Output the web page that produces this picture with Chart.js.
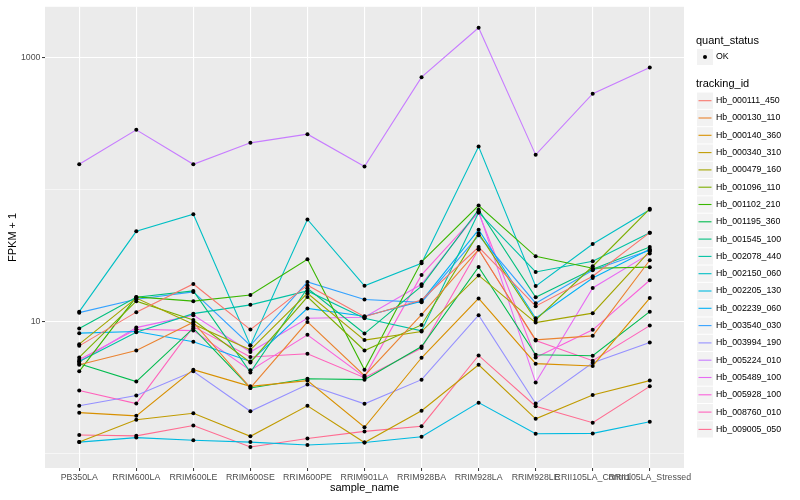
<!DOCTYPE html>
<html>
<head>
<meta charset="utf-8">
<script src="https://cdn.jsdelivr.net/npm/chart.js@4"></script>
<style>
  html, body { margin: 0; padding: 0; background: #ffffff; }
  canvas { display: block; }
</style>
</head>
<body>
<canvas id="myChart" width="800" height="500"></canvas>
<script>
const categories = ["PB350LA", "RRIM600LA", "RRIM600LE", "RRIM600SE", "RRIM600PE", "RRIM901LA",
  "RRIM928BA", "RRIM928LA", "RRIM928LE", "RRII105LA_Control", "RRII105LA_Stressed"];

const trackingIds = ["Hb_000111_450", "Hb_000130_110", "Hb_000140_360", "Hb_000340_310", "Hb_000479_160",
  "Hb_001096_110", "Hb_001102_210", "Hb_001195_360", "Hb_001545_100", "Hb_002078_440",
  "Hb_002150_060", "Hb_002205_130", "Hb_002239_060", "Hb_003540_030", "Hb_003994_190",
  "Hb_005224_010", "Hb_005489_100", "Hb_005928_100", "Hb_008760_010", "Hb_009005_050"];

const lineColors = ["#F8766D", "#EA8331", "#D89000", "#C09B00", "#A3A500", "#7CAE00", "#39B600", "#00BB4E",
  "#00BF7D", "#00C1A3", "#00BFC4", "#00BAE0", "#00B0F6", "#35A2FF", "#9590FF", "#C77CFF",
  "#E76BF3", "#FA62DB", "#FF62BC", "#FF6C91"];

// FPKM + 1, one array per tracking_id, in the order of categories
const hb000111_450 = [6.55, 11.8, 19.3, 8.70, 18.9, 10.9, 14.6, 36.8, 13.1, 22.1, 47.3];
const hb000130_110 = [4.71, 6.04, 9.90, 3.14, 9.95, 3.89, 11.3, 35.2, 7.28, 7.80, 29.2];
const hb000140_360 = [2.04, 1.93, 4.32, 3.23, 3.57, 1.58, 5.32, 15.0, 4.80, 4.61, 15.1];
const hb000340_310 = [1.22, 1.80, 2.02, 1.35, 2.30, 1.21, 2.11, 4.71, 1.83, 2.78, 3.57];
const hb000479_160 = [6.75, 15.1, 9.56, 6.11, 16.4, 7.24, 8.41, 22.4, 9.83, 11.6, 34.2];
const hb001096_110 = [5.35, 14.3, 10.3, 4.90, 15.4, 6.04, 9.44, 46.7, 10.3, 26.3, 71.7];
const hb001102_210 = [4.20, 15.4, 14.3, 15.9, 29.7, 4.32, 28.4, 76.0, 31.3, 25.4, 25.9];
const hb001195_360 = [4.80, 3.51, 8.92, 3.14, 3.69, 3.63, 6.48, 26.0, 5.61, 5.51, 11.9];
const hb001545_100 = [8.86, 15.3, 17.1, 4.12, 17.9, 8.12, 18.6, 70.5, 15.3, 25.0, 36.8];
const hb002078_440 = [4.99, 8.32, 11.5, 13.4, 17.1, 10.6, 8.51, 67.3, 23.8, 28.7, 47.3];
const hb002150_060 = [11.9, 48.4, 65.3, 6.59, 59.6, 18.7, 27.7, 213, 18.6, 38.8, 70.5];
const hb002205_130 = [1.22, 1.32, 1.26, 1.22, 1.16, 1.21, 1.34, 2.43, 1.41, 1.42, 1.74];
const hb002239_060 = [8.18, 8.41, 7.03, 4.99, 12.6, 11.0, 14.3, 49.8, 10.6, 21.4, 35.4];
const hb003540_030 = [11.7, 14.8, 16.8, 6.59, 20.0, 14.7, 14.0, 45.1, 13.8, 24.5, 34.8];
const hb003994_190 = [2.30, 2.75, 4.20, 2.09, 3.33, 2.38, 3.63, 11.2, 2.39, 4.88, 6.94];
const hb005224_010 = [156, 285, 156, 227, 264, 150, 715, 1694, 184, 535, 846];
const hb005489_100 = [4.96, 9.01, 11.2, 5.88, 10.6, 10.8, 19.2, 68.8, 3.45, 18.0, 32.8];
const hb005928_100 = [5.14, 8.76, 8.55, 4.27, 7.94, 3.81, 22.6, 67.3, 5.35, 8.66, 20.6];
const hb008760_010 = [3.00, 2.39, 9.17, 5.39, 5.70, 3.76, 6.30, 35.4, 7.19, 5.05, 9.33];
const hb009005_050 = [1.38, 1.36, 1.63, 1.12, 1.30, 1.47, 1.61, 5.54, 2.28, 1.71, 3.23];

const seriesValues = [hb000111_450, hb000130_110, hb000140_360, hb000340_310, hb000479_160,
  hb001096_110, hb001102_210, hb001195_360, hb001545_100, hb002078_440,
  hb002150_060, hb002205_130, hb002239_060, hb003540_030, hb003994_190,
  hb005224_010, hb005489_100, hb005928_100, hb008760_010, hb009005_050];

const yTicks = [1, 10, 100, 1000];
const yLabelled = [10, 1000];

const FONT = "'Liberation Sans', Arial, sans-serif";

const datasets = seriesValues.map((vals, i) => ({
  type: "line",
  label: trackingIds[i],
  data: vals.map((v, j) => ({ x: j, y: v })),
  borderColor: lineColors[i],
  backgroundColor: lineColors[i],
  borderWidth: 1.1,
  pointRadius: 0,
  tension: 0,
  order: 2
}));

// black points of quant_status "OK", drawn over all lines
datasets.push({
  type: "scatter",
  label: "OK",
  data: seriesValues.flatMap((vals) => vals.map((v, j) => ({ x: j, y: v }))),
  pointRadius: 2,
  pointBackgroundColor: "#000000",
  pointBorderWidth: 0,
  order: 1
});

const panelBg = {
  id: "panelBg",
  beforeDraw: (chart) => {
    const ctx = chart.ctx;
    const a = chart.chartArea;
    ctx.save();
    ctx.fillStyle = "#ffffff";
    ctx.fillRect(0, 0, chart.width, chart.height);
    ctx.fillStyle = "#EBEBEB";
    ctx.fillRect(a.left, a.top, a.right - a.left, a.bottom - a.top);
    ctx.restore();
  }
};

const ggLegend = {
  id: "ggLegend",
  afterDraw: (chart) => {
    const ctx = chart.ctx;
    const x0 = 697;
    ctx.save();
    ctx.textBaseline = "middle";
    ctx.textAlign = "left";
    ctx.fillStyle = "#000000";
    ctx.font = "11px " + FONT;
    ctx.fillText("quant_status", 696, 41);

    ctx.fillStyle = "#F2F2F2";
    ctx.fillRect(x0, 49, 16, 16);
    ctx.fillStyle = "#000000";
    ctx.beginPath();
    ctx.arc(x0 + 8, 57, 2, 0, Math.PI * 2);
    ctx.fill();
    ctx.font = "8.8px " + FONT;
    ctx.fillText("OK", 716, 57);

    ctx.font = "11px " + FONT;
    ctx.fillText("tracking_id", 696, 84);

    const step = 17.3;
    trackingIds.forEach((id, i) => {
      const cy = 100.7 + i * step;
      ctx.fillStyle = "#F2F2F2";
      ctx.fillRect(x0, cy - step / 2 + 0.5, 16, step - 1);
      ctx.strokeStyle = lineColors[i];
      ctx.lineWidth = 1.1;
      ctx.beginPath();
      ctx.moveTo(x0 + 1.5, cy);
      ctx.lineTo(x0 + 14.5, cy);
      ctx.stroke();
      ctx.fillStyle = "#000000";
      ctx.font = "8.8px " + FONT;
      ctx.fillText(id, 716, cy);
    });
    ctx.restore();
  }
};

const config = {
  data: { datasets },
  options: {
    responsive: false,
    devicePixelRatio: 1,
    animation: false,
    layout: { padding: { left: 0, right: 116, top: 5, bottom: 0 } },
    plugins: {
      legend: { display: false },
      tooltip: { enabled: false }
    },
    scales: {
      x: {
        type: "linear",
        min: -0.6,
        max: 10.6,
        afterBuildTicks: (scale) => {
          scale.ticks = categories.map((c, i) => ({ value: i }));
        },
        afterFit: (scale) => { scale.height = 32; },
        ticks: {
          autoSkip: false,
          maxRotation: 0,
          padding: 1.5,
          color: "#4D4D4D",
          font: { family: FONT, size: 8.8 },
          callback: (value) => categories[value]
        },
        grid: {
          color: "#ffffff",
          lineWidth: 1.1,
          tickColor: "#333333",
          tickLength: 3,
          tickWidth: 1
        },
        border: { display: false },
        title: {
          display: true,
          text: "sample_name",
          color: "#000000",
          font: { family: FONT, size: 11 },
          padding: { top: 2, bottom: 5 }
        }
      },
      y: {
        type: "logarithmic",
        min: 0.776,
        max: 2443,
        afterBuildTicks: (scale) => {
          scale.ticks = yTicks.map((v) => ({ value: v }));
        },
        afterFit: (scale) => { scale.width = 45; },
        ticks: {
          padding: 1.5,
          color: "#4D4D4D",
          font: { family: FONT, size: 8.8 },
          callback: (value) => (yLabelled.includes(value) ? String(value) : "")
        },
        grid: {
          color: "#ffffff",
          lineWidth: (c) => (c.tick && yLabelled.includes(c.tick.value) ? 1.1 : 0.55),
          tickColor: (c) => (c.tick && yLabelled.includes(c.tick.value) ? "#333333" : "rgba(0,0,0,0)"),
          tickLength: 3,
          tickWidth: 1
        },
        border: { display: false },
        title: {
          display: true,
          text: "FPKM + 1",
          color: "#000000",
          font: { family: FONT, size: 11 },
          padding: { top: 6, bottom: 2 }
        }
      }
    }
  },
  plugins: [panelBg, ggLegend]
};

const ctx = document.querySelector("#myChart").getContext("2d");
const myChart = new Chart(ctx, config);
</script>
</body>
</html>
